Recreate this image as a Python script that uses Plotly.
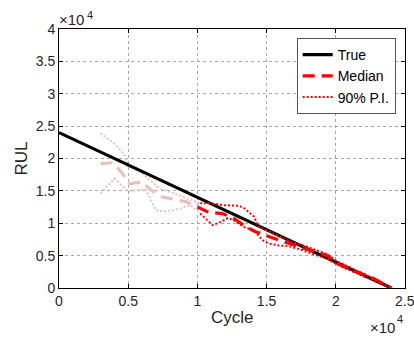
import plotly.graph_objects as go

# ---- data ----
true_cycle = [0, 24000]
true_rul = [24000, 0]

med_cycle = [3000, 3900, 4500, 5100, 6000, 6600, 7400, 8300, 9200, 10000, 10800, 11800, 12600,
             13500, 14200, 15200, 15900, 16800, 17600, 18400, 19400, 20100, 21100, 21800, 22800, 24000]
med_rul = [19200, 19350, 17900, 16100, 16400, 15200, 14100, 13700, 13300, 12500, 11700, 11500, 10800,
           9450, 8700, 7900, 7400, 6700, 6200, 5700, 5000, 3800, 2800, 2250, 1400, 0]

up_cycle = [3000, 3900, 4700, 5000, 5900, 6500, 7200, 8300, 9500, 10200, 10900, 11900, 13000, 13400,
            14100, 14400, 14900, 15800, 16700, 17500, 18400, 19400, 20100, 21100, 22000, 23000, 24000]
up_rul = [23900, 22500, 20700, 18800, 17900, 16800, 15500, 14600, 13600, 13100, 13100, 12800, 12700, 12300,
          11000, 9500, 9000, 8200, 7200, 6700, 6000, 5200, 4100, 3100, 2200, 1200, 0]

lo_cycle = [3000, 4000, 5000, 5900, 6300, 7000, 7800, 8800, 9500, 10200, 11100, 11700, 12200, 12600,
            13400, 14100, 14700, 15100, 15800, 16700, 17500, 18400, 19400, 20100, 21100, 22000, 23000, 24000]
lo_rul = [14600, 16900, 14900, 15200, 15100, 12000, 11800, 12300, 12800, 11500, 9700, 10200, 10800, 10500,
          9400, 8900, 7400, 6900, 6600, 6400, 5900, 5200, 4500, 3600, 2600, 1800, 900, 0]

x_tickvals = [0, 5000, 10000, 15000, 20000, 25000]
x_ticktext = ["0", "0.5", "1", "1.5", "2", "2.5"]
y_tickvals = [0, 5000, 10000, 15000, 20000, 25000, 30000, 35000, 40000]
y_ticktext = ["0", "0.5", "1", "1.5", "2", "2.5", "3", "3.5", "4"]

SPLIT = 9600  # earlier predictions drawn faded

PINK = "#E8C2C2"
RED = "#FF0000"


def split(xs, ys):
    k = next(i for i, v in enumerate(xs) if v >= SPLIT)
    return (xs[:k + 1], ys[:k + 1]), (xs[k:], ys[k:])


(mp, mr) = split(med_cycle, med_rul)
(up_p, up_r) = split(up_cycle, up_rul)
(lo_p, lo_r) = split(lo_cycle, lo_rul)

fig = go.Figure()

dot = dict(width=2, dash="2px,2px")
dashm = dict(width=3.2, dash="12px,7px")

# faded early predictions
fig.add_trace(go.Scatter(x=up_p[0], y=up_p[1], mode="lines", line=dict(color=PINK, **dot), showlegend=False))
fig.add_trace(go.Scatter(x=lo_p[0], y=lo_p[1], mode="lines", line=dict(color=PINK, **dot), showlegend=False))
fig.add_trace(go.Scatter(x=mp[0], y=mp[1], mode="lines", line=dict(color=PINK, **dashm), showlegend=False))

fig.add_trace(go.Scatter(x=true_cycle, y=true_rul, mode="lines", name="True",
                         line=dict(color="black", width=3.2)))
fig.add_trace(go.Scatter(x=mr[0], y=mr[1], mode="lines", name="Median",
                         line=dict(color=RED, **dashm)))
fig.add_trace(go.Scatter(x=up_r[0], y=up_r[1], mode="lines", name="90% P.I.",
                         line=dict(color=RED, **dot)))
fig.add_trace(go.Scatter(x=lo_r[0], y=lo_r[1], mode="lines", showlegend=False,
                         line=dict(color=RED, **dot)))

FONT = "Liberation Sans, Arial, sans-serif"
TXT = "#262626"
axis_common = dict(showline=True, linecolor="black", linewidth=1, mirror="ticks",
                   ticks="inside", ticklen=4, tickcolor="black", automargin=False,
                   showgrid=True, gridcolor="#A8A8A8", griddash="dot", gridwidth=1,
                   zeroline=False, tickfont=dict(family=FONT, size=14, color=TXT))

# last x tick label is drawn as an annotation so it is not dropped at the page edge
fig.update_xaxes(range=[0, 25000], tickvals=x_tickvals, ticktext=x_ticktext[:-1] + [""],
                 **axis_common)
fig.update_yaxes(range=[0, 40000], tickvals=y_tickvals, ticktext=y_ticktext,
                 **axis_common)

fig.add_annotation(text=x_ticktext[-1], xref="x", yref="paper", x=x_tickvals[-1], y=0,
                   xanchor="center", yanchor="top", showarrow=False, yshift=-3,
                   font=dict(family=FONT, size=14, color=TXT))

# axis titles
fig.add_annotation(text="Cycle", xref="paper", yref="paper", x=0.5, y=0, xanchor="center",
                   yanchor="middle", showarrow=False, yshift=-29,
                   font=dict(family=FONT, size=17, color=TXT))
fig.add_annotation(text="RUL", xref="paper", yref="paper", x=0, y=0.5, xanchor="center",
                   yanchor="middle", showarrow=False, xshift=-38, textangle=-90,
                   font=dict(family=FONT, size=17, color=TXT))

# "×10" exponent labels with a raised "4"
fig.add_annotation(text="×10", xref="paper", yref="paper", x=0, y=1, xanchor="left", yanchor="bottom",
                   showarrow=False, xshift=-2, yshift=-1, font=dict(family=FONT, size=15, color=TXT))
fig.add_annotation(text="4", xref="paper", yref="paper", x=0, y=1, xanchor="left", yanchor="bottom",
                   showarrow=False, xshift=26, yshift=6, font=dict(family=FONT, size=11, color=TXT))
fig.add_annotation(text="×10", xref="paper", yref="paper", x=1, y=0, xanchor="right", yanchor="top",
                   showarrow=False, xshift=-8, yshift=-29, font=dict(family=FONT, size=15, color=TXT))
fig.add_annotation(text="4", xref="paper", yref="paper", x=1, y=0, xanchor="right", yanchor="top",
                   showarrow=False, xshift=0, yshift=-23, font=dict(family=FONT, size=11, color=TXT))

fig.update_layout(
    width=414, height=338,
    margin=dict(l=59, r=9, t=29, b=50, autoexpand=False),
    plot_bgcolor="white", paper_bgcolor="white",
    legend=dict(x=0.687, y=0.965, xanchor="left", yanchor="top",
                bgcolor="white", bordercolor="#555555", borderwidth=1,
                font=dict(family=FONT, size=14, color="black"),
                tracegroupgap=0, itemwidth=30),
)

fig.write_html("out.html")
